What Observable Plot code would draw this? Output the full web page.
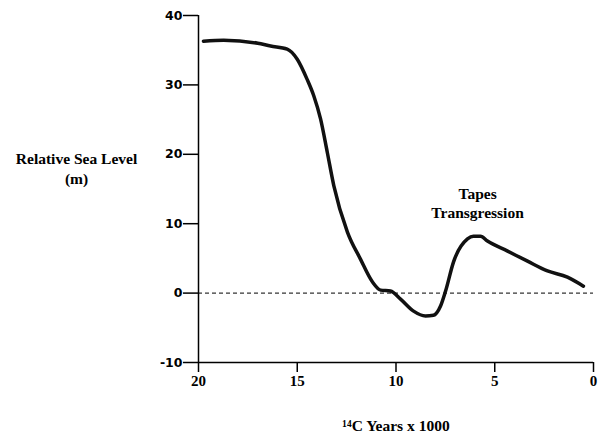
<!DOCTYPE html>
<html>
<head>
<meta charset="utf-8">
<script src="https://cdn.jsdelivr.net/npm/d3@7"></script>
<script src="https://cdn.jsdelivr.net/npm/@observablehq/plot@0.6"></script>
<style>
  html, body { margin: 0; padding: 0; background: #fff; }
  g[aria-label="y-axis tick label"] text { font-family: "DejaVu Sans", sans-serif !important; font-weight: bold; font-size: 12.5px !important; }
  g[aria-label="x-axis tick label"] text { font-family: "Liberation Serif", serif !important; font-weight: bold; font-size: 15px !important; }
  g[aria-label="text"] text { font-family: "Liberation Serif", serif !important; font-weight: bold; font-size: 15.5px !important; }
</style>
</head>
<body>
<div id="chart"></div>
<script>
// Data
const years = [19.75, 18.73, 17.0, 16.35, 15.51, 15.0, 14.5, 14.16, 13.82, 13.48, 13.15, 12.46, 11.8, 11.19, 10.78, 10.28, 9.77, 9.11, 8.51, 8.1, 7.75, 7.49, 7.09, 6.38, 6.08, 5.72, 5.37, 4.35, 3.34, 2.33, 1.32, 0.51];
const levels = [36.3, 36.45, 36.0, 35.6, 35.16, 33.7, 30.8, 28.4, 25.1, 20.3, 15.5, 8.8, 4.9, 1.6, 0.43, 0.29, -0.86, -2.6, -3.3, -3.2, -1.9, 0.29, 4.47, 7.8, 8.2, 8.2, 7.5, 6.05, 4.6, 3.2, 2.3, 1.0];
const xTicks = [20, 15, 10, 5, 0];
const yTicks = [-10, 0, 10, 20, 30, 40];
const yLabel = "Relative Sea Level\n(m)";
const xLabel = "¹⁴C Years x 1000";
const annotation = [{year: 5.87, level: 13.1, text: "Tapes\nTransgression"}];

const data = years.map((y, i) => ({year: y, level: levels[i]}));

const chart = Plot.plot({
  width: 600,
  height: 438,
  marginLeft: 198,
  marginRight: 7,
  marginTop: 15,
  marginBottom: 76,
  style: {background: "white", color: "black"},
  x: {domain: [20, 0]},
  y: {domain: [-10, 40]},
  marks: [
    Plot.ruleY([0], {strokeDasharray: "4,3", strokeWidth: 1}),
    Plot.axisX({ticks: xTicks, tickSize: 10, tickPadding: 3, label: null, strokeWidth: 1.5, tickFormat: d => String(d)}),
    Plot.axisY({ticks: yTicks, tickSize: 15, tickPadding: 1, label: null, strokeWidth: 1.5, tickFormat: d => String(d)}),
    Plot.ruleX([20], {strokeWidth: 1.5}),
    Plot.ruleY([-10], {strokeWidth: 1.5}),
    Plot.line(data, {x: "year", y: "level", curve: "monotone-x", strokeWidth: 3.5, stroke: "#111"}),
    Plot.text(annotation, {x: "year", y: "level", text: "text", lineHeight: 1.25}),
    Plot.text([yLabel], {frameAnchor: "top-left", dx: -122, dy: 152, lineHeight: 1.3, textAnchor: "middle", lineAnchor: "middle"}),
    Plot.text([xLabel], {frameAnchor: "bottom", dy: 64, lineAnchor: "middle"})
  ]
});
document.getElementById("chart").appendChild(chart);
</script>
</body>
</html>
